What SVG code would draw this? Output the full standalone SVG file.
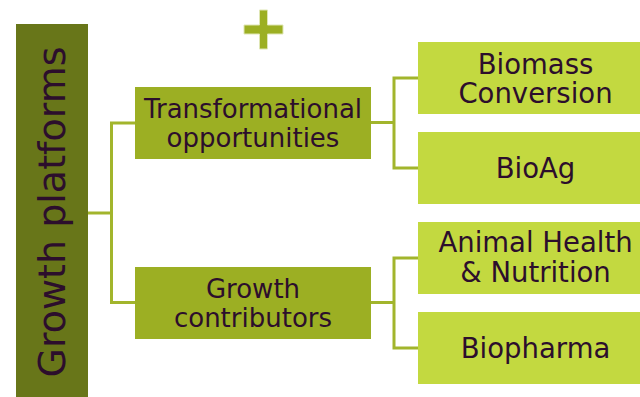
<svg xmlns="http://www.w3.org/2000/svg" width="640" height="397" viewBox="0 0 640 397">
  <style>
    .txt { font-family: "DejaVu Sans", Verdana, sans-serif; fill: #2c0e2c; text-anchor: middle; }
    .mid { fill: #9caf23; }
    .leaf { fill: #c3d940; }
    .link { fill: none; stroke: #a2b52c; stroke-width: 3; }
  </style>

  <!-- connectors -->
  <g id="connectors">
    <path class="link" d="M88,213 H111.5"/>
    <path class="link" d="M135,123 H111.5 V302.5 H135"/>
    <path class="link" d="M371,122.5 H394"/>
    <path class="link" d="M418,78 H394 V168 H418"/>
    <path class="link" d="M371,302.5 H394"/>
    <path class="link" d="M418,258 H394 V348 H418"/>
  </g>

  <!-- plus sign -->
  <g id="plus">
    <path d="M259.5,10 H267.5 V25 H283 V34 H267.5 V49 H259.5 V34 H244 V25 H259.5 Z" fill="#9caf23" stroke="#dfe6b4" stroke-width="1"/>
  </g>

  <!-- root: vertical bar -->
  <g id="growth-platforms">
    <rect x="16" y="24" width="72" height="373" fill="#687619"/>
    <text class="txt" font-size="38" transform="translate(65,212) rotate(-90)">Growth platforms</text>
  </g>

  <!-- second level -->
  <g id="transformational">
    <rect class="mid" x="135" y="87" width="236" height="72"/>
    <text class="txt" font-size="26" x="253" y="118">Transformational</text>
    <text class="txt" font-size="26" x="253" y="147">opportunities</text>
  </g>
  <g id="growth-contributors">
    <rect class="mid" x="135" y="267" width="236" height="72"/>
    <text class="txt" font-size="26" x="253" y="297.5">Growth</text>
    <text class="txt" font-size="26" x="253" y="326.5">contributors</text>
  </g>

  <!-- leaves -->
  <g id="biomass-conversion">
    <rect class="leaf" x="418" y="42" width="240" height="72"/>
    <text class="txt" font-size="27.5" x="535.5" y="73.5">Biomass</text>
    <text class="txt" font-size="27.5" x="535.5" y="102.5">Conversion</text>
  </g>
  <g id="bioag">
    <rect class="leaf" x="418" y="132" width="240" height="72"/>
    <text class="txt" font-size="27.5" x="535.5" y="177.5">BioAg</text>
  </g>
  <g id="animal-health">
    <rect class="leaf" x="418" y="222" width="240" height="72"/>
    <text class="txt" font-size="27.5" x="535.5" y="251.5">Animal Health</text>
    <text class="txt" font-size="27.5" x="535.5" y="281.5">&amp; Nutrition</text>
  </g>
  <g id="biopharma">
    <rect class="leaf" x="418" y="312" width="240" height="72"/>
    <text class="txt" font-size="27.5" x="535.5" y="357.5">Biopharma</text>
  </g>
</svg>
